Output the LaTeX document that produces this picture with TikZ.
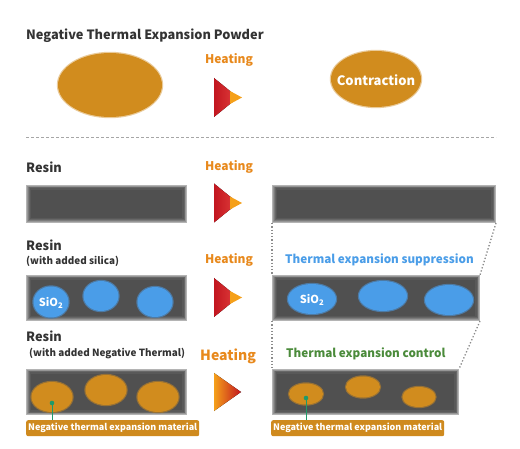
\documentclass[tikz,border=0pt]{standalone}
\usepackage{fontspec}
\setmainfont{Noto Sans CJK JP}
\usetikzlibrary{calc}
\definecolor{titlec}{HTML}{333333}
\definecolor{heatc}{HTML}{E8891C}
\definecolor{ntec}{HTML}{D18C1E}
\definecolor{bluec}{HTML}{4A9DE8}
\definecolor{greenc}{HTML}{4B8B3B}
\definecolor{labc}{HTML}{CF8A1E}
\definecolor{dotc}{HTML}{1F9A6A}
\definecolor{resinA}{HTML}{B4B4B4}
\definecolor{resinB}{HTML}{969696}
\definecolor{resinC}{HTML}{7C7C7C}
\definecolor{resinE}{HTML}{676767}
\definecolor{resinF}{HTML}{595959}
\definecolor{resinD}{HTML}{505050}
\definecolor{redA}{HTML}{C2161F}
\definecolor{redB}{HTML}{E2403E}
\definecolor{orA}{HTML}{F5A01A}
\tikzset{
  base/.style={inner sep=0pt, anchor=base west},
  ttl/.style={base, text=titlec, font=\bfseries\fontsize{12.8}{15}\selectfont},
  sub/.style={base, text=titlec, font=\bfseries\fontsize{9.9}{12}\selectfont},
  heat/.style={base, text=heatc, font=\bfseries\fontsize{12}{14}\selectfont},
  heatbig/.style={base, text=heatc, font=\bfseries\fontsize{14}{16}\selectfont},
  note/.style={base, font=\bfseries\fontsize{11.7}{14}\selectfont},
  labbox/.style={fill=labc, rounded corners=2pt, text=white, inner sep=0pt,
     minimum width=173pt, minimum height=16pt, anchor=north west,
     font=\bfseries\fontsize{9}{10}\selectfont},
  whitetxt/.style={text=white, inner sep=0pt, font=\bfseries\fontsize{11}{12}\selectfont},
  sep/.style={draw=gray!70, line width=0.8pt, dash pattern=on 3pt off 2pt},
  guide/.style={draw=gray!90, line width=1.3pt, dash pattern=on 1.3pt off 2pt},
  lead/.style={draw=dotc, line width=0.9pt},
}
\newcommand\resinbox[4]{%
  \fill[resinA] (#1,#2) rectangle (#3,#4);
  \fill[resinB] ($(#1,#2)+(0.8,0.8)$) rectangle ($(#3,#4)+(-0.8,-0.8)$);
  \fill[resinC] ($(#1,#2)+(1.6,1.6)$) rectangle ($(#3,#4)+(-1.6,-1.6)$);
  \fill[resinE] ($(#1,#2)+(2.5,2.5)$) rectangle ($(#3,#4)+(-2.5,-2.5)$);
  \fill[resinF] ($(#1,#2)+(3.5,3.5)$) rectangle ($(#3,#4)+(-3.5,-3.5)$);
  \fill[resinD] ($(#1,#2)+(4.6,4.6)$) rectangle ($(#3,#4)+(-4.6,-4.6)$);
}
% color, edge color, cx, cy, rx, ry
\newcommand\softell[6]{%
  \fill[#2] (#3,#4) ellipse [x radius=#5+1.2, y radius=#6+1.2];
  \fill[#1] (#3,#4) ellipse [x radius=#5, y radius=#6];
}
\newcommand\heatA[1]{%
  \fill[left color=redA, right color=redB] (214,#1-19.5) -- (214,#1+19.5) -- (238,#1) -- cycle;
  \fill[orA] (230,#1-6.5) -- (230,#1+6.5) -- (242,#1) -- cycle;
}
\newcommand\heatB[1]{%
  \fill[left color=orA, middle color=orA!85!redA, right color=redA] (214,#1-19) -- (214,#1+19) -- (241,#1) -- cycle;
}
\begin{document}
\begin{tikzpicture}[x=1pt,y=-1pt]
\useasboundingbox[fill=white] (0,0) rectangle (520,449);

% ---------- top section ----------
\node[ttl] (title) at (26,40) {Negative Thermal Expansion Powder};
\softell{ntec}{ntec!45!white}{110}{85}{52}{32}
\node[heat] (h1) at (205,64) {Heating};
\heatA{97.5}
\softell{ntec}{ntec!45!white}{376}{79}{45}{28}
\node[whitetxt, font=\bfseries\fontsize{13}{15}\selectfont] (contr) at (376,80) {Contraction};

\coordinate (sepL) at (26,137);
\coordinate (sepR) at (496,137);
\draw[sep] (sepL) -- (sepR);

% ---------- resin ----------
\node[ttl] (resin1) at (26,173) {Resin};
\node[heat] (h2) at (205,171) {Heating};
\resinbox{26}{185}{187}{223}
\heatA{203}
\resinbox{272}{185}{496}{223}
\coordinate (r1bl) at (272,223);
\coordinate (r1br) at (496,223);

% ---------- silica ----------
\node[ttl] (resin2) at (26,251) {Resin};
\node[sub] (resin2s) at (26,265) {(with added silica)};
\node[heat] (h3) at (205,264) {Heating};
\node[note, text=bluec] (supp) at (285,264) {Thermal expansion suppression};
\resinbox{26}{275}{187}{321}
\softell{bluec}{bluec!55!resinD}{51}{302}{17.5}{15.5}
\softell{bluec}{bluec!55!resinD}{101}{296}{17.5}{15}
\softell{bluec}{bluec!55!resinD}{155}{302}{17.5}{15}
\node[whitetxt] (sio1) at (51,303) {SiO\textsubscript{2}};
\heatA{297.5}
\resinbox{272}{275}{480}{321}
\softell{bluec}{bluec!55!resinD}{312}{299}{24}{15}
\softell{bluec}{bluec!55!resinD}{383}{296}{24}{15}
\softell{bluec}{bluec!55!resinD}{449}{300}{24}{15}
\node[whitetxt] (sio2) at (312,300) {SiO\textsubscript{2}};
\coordinate (r2tl) at (272,275);
\coordinate (r2tr) at (480,275);
\coordinate (r2bl) at (272,321);
\coordinate (r2br) at (480,321);
\draw[guide] (r1bl) -- (r2tl);
\draw[guide] (r1br) -- (r2tr);

% ---------- negative thermal ----------
\node[ttl] (resin3) at (26,342) {Resin};
\node[sub] (resin3s) at (29,357) {(with added Negative Thermal)};
\node[heatbig] (h4) at (200,360) {Heating};
\node[note, text=greenc] (ctrl) at (286,358) {Thermal expansion control};
\resinbox{26}{369}{187}{415}
\softell{ntec}{ntec!55!resinD}{52}{397}{20.5}{15}
\softell{ntec}{ntec!55!resinD}{106}{390}{20.5}{15}
\softell{ntec}{ntec!55!resinD}{158}{397}{20.5}{15}
\heatB{392}
\resinbox{272}{369}{459}{415}
\softell{ntec}{ntec!55!resinD}{306}{394}{17}{10.5}
\softell{ntec}{ntec!55!resinD}{363}{387}{17}{10.5}
\softell{ntec}{ntec!55!resinD}{419}{397}{16.5}{10}
\coordinate (r3tl) at (272,369);
\coordinate (r3tr) at (459,369);
\draw[guide] (r2bl) -- (r3tl);
\draw[guide] (r2br) -- (r3tr);

\node[labbox] (lab1) at (26,420) {Negative thermal expansion material};
\node[labbox] (lab2) at (271,420) {Negative thermal expansion material};
\coordinate (d1) at (52,403);
\coordinate (d2) at (306,398);
\draw[lead] (d1) -- (d1 |- lab1.north);
\draw[lead] (d2) -- (d2 |- lab2.north);
\fill[dotc] (d1) circle (2.3);
\fill[dotc] (d2) circle (2.3);
\end{tikzpicture}
\end{document}
